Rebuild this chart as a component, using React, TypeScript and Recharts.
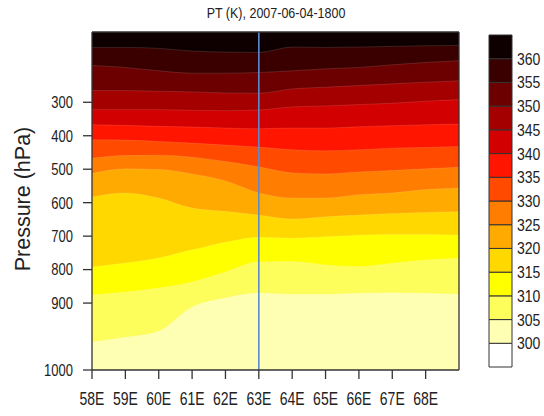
import React from 'react';
import {
  Area,
  Bar,
  BarChart,
  CartesianGrid,
  ComposedChart,
  ReferenceLine,
  XAxis,
  YAxis,
} from 'recharts';

// longitude grid (deg E)
const LONGITUDES = [58, 59, 60, 61, 62, 63, 64, 65, 66, 67, 68, 69];

// pressure (hPa) of each isentrope along the section
const PT360 = [136, 136, 139, 147, 150, 151, 135, 136, 135, 133, 131, 130];
const PT355 = [190, 196, 206, 213, 213, 211, 206, 200, 196, 188, 181, 176];
const PT350 = [265, 265, 267, 269, 272, 273, 260, 255, 250, 245, 240, 236];
const PT345 = [322, 322, 322, 324, 325, 323, 314, 311, 307, 303, 297, 292];
const PT340 = [367, 369, 372, 374, 377, 379, 377, 377, 373, 370, 367, 365];
const PT335 = [412, 413, 417, 422, 428, 434, 442, 445, 442, 437, 435, 432];
const PT330 = [467, 459, 458, 464, 477, 493, 511, 514, 508, 504, 499, 494];
const PT325 = [513, 499, 501, 514, 535, 571, 586, 586, 576, 571, 561, 556];
const PT320 = [583, 571, 586, 616, 626, 637, 649, 642, 637, 632, 629, 627];
const PT315 = [792, 780, 765, 741, 718, 703, 706, 702, 697, 695, 695, 697];
const PT310 = [876, 867, 855, 837, 807, 777, 776, 786, 791, 781, 771, 766];
const PT305 = [958, 951, 942, 906, 885, 870, 874, 874, 871, 869, 871, 874];

const LEVELS = [360, 355, 350, 345, 340, 335, 330, 325, 320, 315, 310, 305];
const ISENTROPES = [PT360, PT355, PT350, PT345, PT340, PT335, PT330, PT325, PT320, PT315, PT310, PT305];

// colour bar: contour levels and the fill below / between / above them
const CONTOUR_LEVELS = [300, 305, 310, 315, 320, 325, 330, 335, 340, 345, 350, 355, 360];
const COLORBAR = [
  '#ffffff', '#ffffb4', '#fdfd5c', '#ffff00', '#ffd800', '#ffaa00', '#ff7d00',
  '#ff4a00', '#ff1500', '#d20000', '#a40000', '#6c0000', '#3a0000', '#0e0000',
];

const LON_TICKS = [58, 59, 60, 61, 62, 63, 64, 65, 66, 67, 68];
const PRESSURE_TICKS = [300, 400, 500, 600, 700, 800, 900, 1000];
const SECTION_LON = 63;

// the vertical axis is stretched below 900 hPa (900-1000 takes twice the room)
const toAxis = (p: number) => (p <= 900 ? p : 900 + (p - 900) * 2);
const Y_TOP = 90;
const Y_BOTTOM = toAxis(1000);

const rows = LONGITUDES.map((lon, i) => {
  const row: Record<string, number> = { lon };
  LEVELS.forEach((lv, k) => {
    row['pt' + lv] = toAxis(ISENTROPES[k][i]);
  });
  return row;
});

const colorbarRow: Record<string, number | string> = { name: 'pt' };
COLORBAR.forEach((_, k) => {
  colorbarRow['b' + k] = 1;
});

const FONT = '"Liberation Sans", Arial, Helvetica, sans-serif';
const AXIS = '#333';
const TEXT = '#222';

// the original uses a tall, narrow helvetica; stretch arial vertically to match
function stretchedTick(side: 'bottom' | 'left' | 'right', fontSize: number, sy: number, format: (v: number) => string) {
  const cap = 0.716 * fontSize;
  const anchor = side === 'left' ? 'end' : side === 'right' ? 'start' : 'middle';
  const dy = side === 'bottom' ? cap : cap / 2;
  return (props: any) => {
    const { x, y, payload } = props;
    return (
      <g transform={`translate(${x},${y}) scale(1,${sy})`}>
        <text x={0} y={dy} textAnchor={anchor} fontSize={fontSize} fill={TEXT} fontFamily={FONT}>
          {format(payload.value)}
        </text>
      </g>
    );
  };
}

export default function App() {
  const yTicks = PRESSURE_TICKS.map(toAxis);
  const yLabel = (v: number) => String(PRESSURE_TICKS[yTicks.indexOf(v)] ?? '');

  return (
    <div style={{ position: 'absolute', left: 0, top: 0, width: 544, height: 416, background: '#fff', fontFamily: FONT, overflow: 'hidden' }}>
      <div style={{ position: 'absolute', left: 0, top: 0 }}>
        <ComposedChart width={544} height={416} data={rows} margin={{ top: 0, right: 65, bottom: 0, left: 0 }}>
          <CartesianGrid horizontal={false} vertical={false} fill={COLORBAR[13]} fillOpacity={1} />
          <XAxis
            dataKey="lon"
            type="number"
            domain={[58, 69]}
            ticks={LON_TICKS}
            interval={0}
            height={46}
            tickSize={9}
            tickMargin={13}
            stroke={AXIS}
            strokeWidth={1.3}
            tick={stretchedTick('bottom', 14, 1.3, (v) => `${v}E`)}
          />
          <XAxis
            xAxisId="top"
            orientation="top"
            dataKey="lon"
            type="number"
            domain={[58, 69]}
            ticks={LON_TICKS}
            interval={0}
            height={32}
            tickSize={9}
            stroke={AXIS}
            strokeWidth={1.3}
            tick={false}
          />
          <YAxis
            type="number"
            domain={[Y_TOP, Y_BOTTOM]}
            reversed
            ticks={yTicks}
            interval={0}
            width={92}
            tickSize={9}
            tickMargin={10}
            stroke={AXIS}
            strokeWidth={1.3}
            tick={stretchedTick('left', 13, 1.25, yLabel)}
          />
          <YAxis
            yAxisId="right"
            orientation="right"
            type="number"
            domain={[Y_TOP, Y_BOTTOM]}
            reversed
            ticks={yTicks}
            interval={0}
            width={20}
            tickSize={8}
            stroke={AXIS}
            strokeWidth={1.3}
            tick={false}
          />
          {LEVELS.map((lv) => (
            <Area
              key={lv}
              dataKey={'pt' + lv}
              type="monotone"
              baseValue={Y_BOTTOM}
              fill={COLORBAR[CONTOUR_LEVELS.indexOf(lv)]}
              fillOpacity={1}
              stroke="#ffffff"
              strokeOpacity={0.12}
              strokeWidth={1}
              dot={false}
              activeDot={false}
              isAnimationActive={false}
            />
          ))}
          <ReferenceLine x={SECTION_LON} stroke="#5b8bd0" strokeWidth={1.6} />
        </ComposedChart>
      </div>

      <div style={{ position: 'absolute', left: 488, top: 34 }}>
        <BarChart width={56} height={334} data={[colorbarRow]} margin={{ top: 1, right: 0, bottom: 1, left: 1 }} barCategoryGap={0}>
          <XAxis dataKey="name" hide />
          <YAxis
            orientation="right"
            type="number"
            domain={[0, COLORBAR.length]}
            ticks={CONTOUR_LEVELS.map((_, k) => k + 1)}
            interval={0}
            width={32}
            axisLine={false}
            tickLine={false}
            tickSize={0}
            tickMargin={5}
            tick={stretchedTick('right', 14, 1.2, (v) => String(CONTOUR_LEVELS[v - 1]))}
          />
          {COLORBAR.map((c, k) => (
            <Bar key={k} dataKey={'b' + k} stackId="cb" fill={c} stroke={AXIS} strokeWidth={1} isAnimationActive={false} />
          ))}
        </BarChart>
      </div>

      <svg width={544} height={416} style={{ position: 'absolute', left: 0, top: 0, pointerEvents: 'none' }}>
        <g transform="translate(276,8) scale(1,1.12)">
          <text x={0} y={9} textAnchor="middle" fontSize={12.5} fill={TEXT} fontFamily={FONT}>
            PT (K),  2007-06-04-1800
          </text>
        </g>
        <g transform="translate(22,199) rotate(-90)">
          <text x={0} y={7.5} textAnchor="middle" fontSize={21.5} fill={TEXT} fontFamily={FONT}>
            Pressure (hPa)
          </text>
        </g>
      </svg>
    </div>
  );
}
